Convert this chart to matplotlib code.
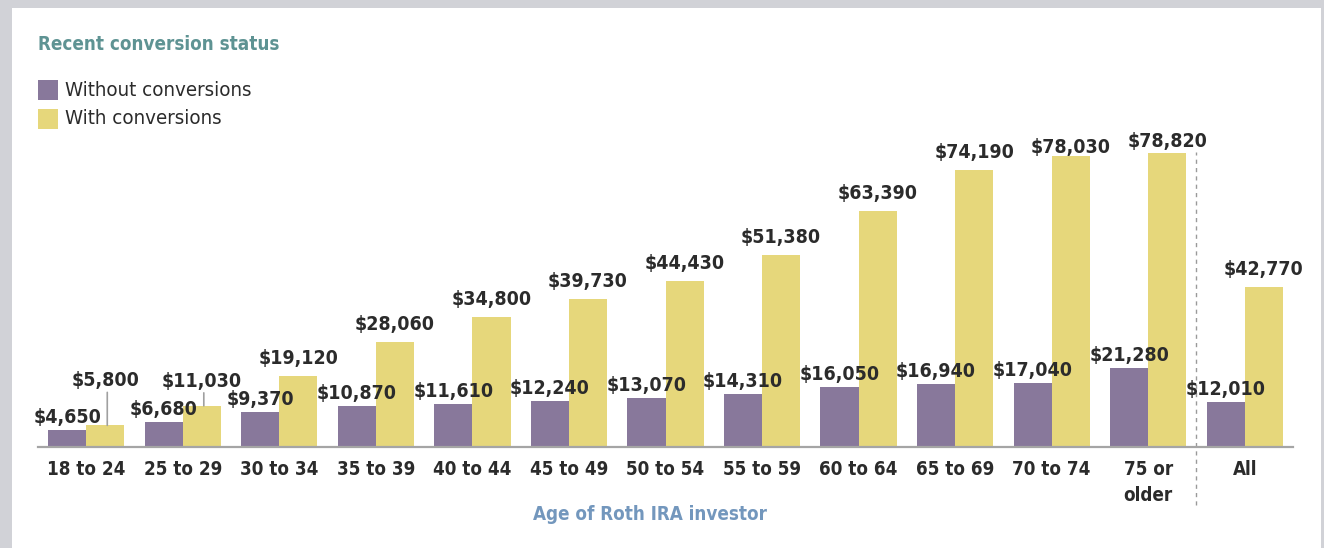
import matplotlib
matplotlib.use("Agg")
import matplotlib.pyplot as plt
from matplotlib import font_manager as fm
from matplotlib.patches import Rectangle
import numpy as np

categories = ["18 to 24", "25 to 29", "30 to 34", "35 to 39", "40 to 44", "45 to 49",
              "50 to 54", "55 to 59", "60 to 64", "65 to 69", "70 to 74", "75 or\nolder", "All"]
without_conv = [4650, 6680, 9370, 10870, 11610, 12240, 13070, 14310, 16050, 16940, 17040, 21280, 12010]
with_conv = [5800, 11030, 19120, 28060, 34800, 39730, 44430, 51380, 63390, 74190, 78030, 78820, 42770]
series_names = ["Without conversions", "With conversions"]
title_text = "Recent conversion status"
xlabel_text = "Age of Roth IRA investor"

PURPLE = "#88789b"
YELLOW = "#e6d77b"
TXT = "#2b2b2b"
TEAL = "#5e9393"
BLUE = "#7397bd"

cond = [f for f in fm.fontManager.ttflist if f.name == "DejaVu Sans" and "ondensed" in f.fname]
FONT = "DejaVu Sans"
STRETCH = "condensed" if cond else "normal"

W, H = 1324, 548
fig = plt.figure(figsize=(W / 100, H / 100), dpi=100)
fig.patch.set_facecolor("#d1d2d7")

def fx(px):
    return px / W

def fy(py):
    return 1 - py / H

# white panel
fig.patches.append(Rectangle((fx(12), 0), fx(1321) - fx(12), fy(8), transform=fig.transFigure,
                             facecolor="white", edgecolor="none", zorder=-5))

ax_left, ax_right, ax_base, ax_top = 38, 1293, 447, 140
ax = fig.add_axes([fx(ax_left), fy(ax_base), fx(ax_right - ax_left), (ax_base - ax_top) / H])
ax.set_zorder(2)
ax.set_facecolor("none")
scale = 294 / 78820  # px per unit
ax.set_ylim(0, (ax_base - ax_top) / scale)
ax.set_xlim(-0.5, 12.5)

x = np.arange(len(categories))
bw = 0.395
ax.bar(x - bw / 2, without_conv, bw, color=PURPLE, zorder=2)
ax.bar(x + bw / 2, with_conv, bw, color=YELLOW, zorder=2)

for s in ["top", "right", "left"]:
    ax.spines[s].set_visible(False)
ax.spines["bottom"].set_color("#a5a5a5")
ax.spines["bottom"].set_linewidth(1.6)
ax.set_yticks([])
ax.set_xticks(x)
ax.set_xticklabels(categories, fontfamily=FONT, fontstretch=STRETCH, fontweight="bold",
                   fontsize=13.5, color=TXT, linespacing=1.45)
ax.tick_params(axis="x", length=0, pad=9.5)

PT = 72 / 100  # points per pixel
VFS = 14
lift_purple = 7
lift_yellow = {0: 39, 1: 19, 10: 3, 11: 6}
leaders = [0, 1]
for i, v in enumerate(without_conv):
    ax.annotate(f"${v:,}", (x[i] - bw / 2, v), xytext=(0, lift_purple * PT), textcoords="offset points",
                ha="center", va="baseline", fontfamily=FONT, fontstretch=STRETCH, fontweight="bold",
                fontsize=VFS, color=TXT, zorder=4)
for i, v in enumerate(with_conv):
    lift = lift_yellow.get(i, 12)
    ax.annotate(f"${v:,}", (x[i] + bw / 2, v), xytext=(0, lift * PT), textcoords="offset points",
                ha="center", va="baseline", fontfamily=FONT, fontstretch=STRETCH, fontweight="bold",
                fontsize=VFS, color=TXT, zorder=4)
    if i in leaders:
        ax.annotate("", (x[i] + bw / 2 + 0.02, v), xytext=(x[i] + bw / 2 + 0.02, v + (lift - 6) / scale),
                    arrowprops=dict(arrowstyle="-", color="#a0a0a0", lw=1.2, shrinkA=0, shrinkB=0))

# dashed separator
ax.plot([11.5, 11.5], [(ax_base - 505) / scale, (ax_base - 152) / scale], ls=(0, (3, 3)),
        color="#9a9a9a", lw=1, clip_on=False, zorder=1)

# title and legend
fig.text(fx(38), fy(44), title_text, fontfamily=FONT, fontstretch=STRETCH, fontweight="bold",
         fontsize=13.5, color=TEAL, va="center", ha="left")
for k, (name, col) in enumerate(zip(series_names, [PURPLE, YELLOW])):
    yc = 90 + 28.5 * k
    fig.patches.append(Rectangle((fx(38), fy(yc + 10)), fx(20), 20 / H, transform=fig.transFigure,
                                 facecolor=col, edgecolor="none"))
    fig.text(fx(65), fy(yc), name, fontfamily=FONT, fontstretch=STRETCH, fontsize=14.7,
             color=TXT, va="center", ha="left")

fig.text(fx(650), fy(514), xlabel_text, fontfamily=FONT, fontstretch=STRETCH, fontweight="bold",
         fontsize=13.5, color=BLUE, va="center", ha="center")

fig.savefig("out.png", dpi=100, facecolor=fig.get_facecolor())
